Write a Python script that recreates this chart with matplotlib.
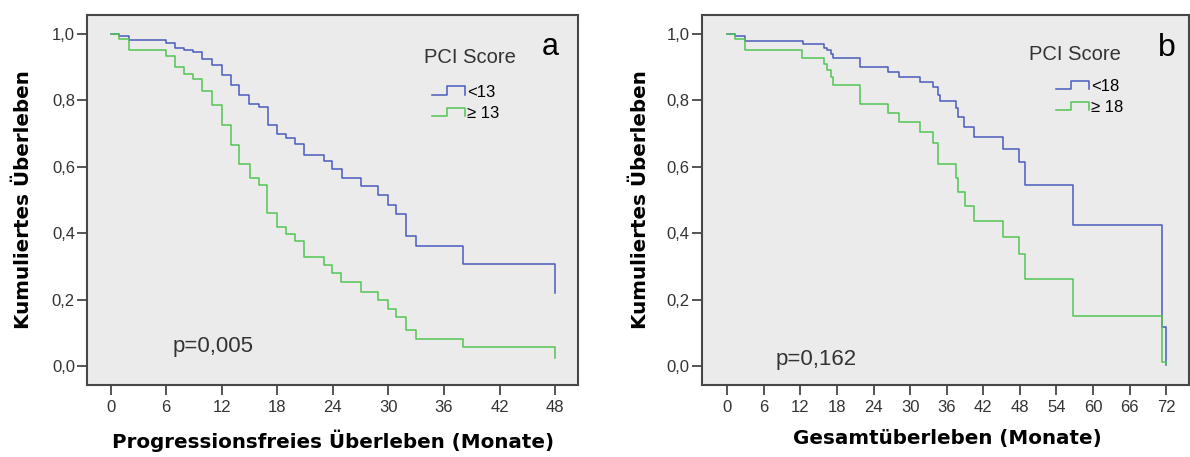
import matplotlib
matplotlib.use("Agg")
import matplotlib.pyplot as plt
from matplotlib.lines import Line2D
from matplotlib.legend_handler import HandlerBase

plt.rcParams["font.family"] = ["Liberation Sans", "DejaVu Sans"]

# ---- data (months, cumulative survival) ----
pfs_low_t = [0, 0.94, 2.0, 6.0, 6.95, 7.9, 8.9, 9.9, 11.0, 12.0, 13.0, 13.9, 14.9, 16.0,
             17.0, 18.0, 18.9, 19.9, 20.9, 23.0, 23.9, 25.0, 27.0, 28.9, 29.9, 30.8,
             31.9, 33.0, 38.0, 48.0]
pfs_low_s = [1.0, 0.993, 0.980, 0.973, 0.958, 0.952, 0.945, 0.925, 0.907, 0.877, 0.847,
             0.817, 0.789, 0.779, 0.726, 0.699, 0.686, 0.669, 0.636, 0.616, 0.594, 0.567,
             0.542, 0.514, 0.486, 0.459, 0.393, 0.363, 0.308, 0.221]
pfs_high_t = [0, 0.94, 2.0, 6.0, 6.95, 7.9, 8.9, 9.9, 11.0, 12.0, 13.0, 13.9, 15.0, 16.0,
              16.9, 18.0, 18.9, 19.9, 20.9, 23.0, 23.9, 24.85, 27.0, 28.9, 29.9, 30.8,
              31.9, 33.0, 38.0, 48.0]
pfs_high_s = [1.0, 0.985, 0.952, 0.933, 0.900, 0.880, 0.865, 0.827, 0.786, 0.726, 0.666,
              0.607, 0.566, 0.544, 0.462, 0.418, 0.398, 0.378, 0.330, 0.306, 0.282, 0.253,
              0.225, 0.198, 0.171, 0.148, 0.108, 0.083, 0.057, 0.024]

os_low_t = [0, 1.28, 2.92, 12.5, 15.8, 16.3, 17.0, 17.4, 21.8, 26.3, 28.2, 31.6, 33.8,
            34.6, 34.9, 37.5, 37.9, 38.9, 40.4, 45.3, 47.9, 48.8, 56.7, 71.3, 72.0]
os_low_s = [1.0, 0.993, 0.978, 0.969, 0.958, 0.950, 0.940, 0.927, 0.900, 0.885, 0.870,
            0.855, 0.840, 0.815, 0.797, 0.775, 0.750, 0.720, 0.690, 0.652, 0.615, 0.545,
            0.425, 0.118, 0.005]
os_high_t = [0, 1.28, 2.92, 12.2, 15.8, 16.3, 17.0, 17.4, 21.7, 26.3, 28.2, 31.6, 33.8,
             34.6, 37.5, 37.9, 39.0, 40.4, 45.3, 47.9, 48.8, 56.7, 71.3, 72.0]
os_high_s = [1.0, 0.983, 0.952, 0.928, 0.910, 0.890, 0.870, 0.847, 0.790, 0.762, 0.733,
             0.703, 0.672, 0.607, 0.565, 0.525, 0.482, 0.438, 0.390, 0.337, 0.262, 0.152,
             0.014, 0.008]

y_ticks = [0.0, 0.2, 0.4, 0.6, 0.8, 1.0]
y_ticklabels = ["0,0", "0,2", "0,4", "0,6", "0,8", "1,0"]
pfs_xticks = list(range(0, 49, 6))
os_xticks = list(range(0, 73, 6))

BLUE = "#4a5bbd"
GREEN = "#52c552"
BG = "#ebebeb"
FRAME = "#474747"


class StepHandler(HandlerBase):
    # little step symbol like the SPSS legend
    def create_artists(self, legend, orig_handle, xdescent, ydescent, width, height,
                       fontsize, trans):
        lo = -ydescent + height * 0.1
        hi = -ydescent + height * 0.9
        x0 = -xdescent
        xs = [x0, x0 + 0.45 * width, x0 + 0.45 * width, x0 + width, x0 + width]
        ys = [lo, lo, hi, hi, lo]
        ln = Line2D(xs, ys, color=orig_handle.get_color(), lw=1.1, transform=trans)
        return [ln]


def style_axes(ax, xticks, xlim):
    ax.set_facecolor(BG)
    ax.set_xlim(*xlim)
    ax.set_ylim(-0.056, 1.056)
    ax.set_xticks(xticks)
    ax.set_yticks(y_ticks)
    ax.set_yticklabels(y_ticklabels)
    for sp in ax.spines.values():
        sp.set_color(FRAME)
        sp.set_linewidth(1.5)
    ax.tick_params(direction="out", length=7, width=1.3, color=FRAME,
                   labelsize=12, labelcolor="#333333")
    ax.tick_params(axis="y", pad=1.5)
    ax.tick_params(axis="x", pad=3.5)
    ax.set_ylabel("Kumuliertes Überleben", family="DejaVu Sans", weight="bold",
                  fontsize=14.3)


def add_legend(ax, labels, anchor, title_xy):
    h1 = Line2D([], [], color=BLUE)
    h2 = Line2D([], [], color=GREEN)
    ax.legend([h1, h2], labels, handler_map={Line2D: StepHandler()},
              loc="upper left", bbox_to_anchor=anchor, frameon=False,
              fontsize=12, handlelength=2.0, handleheight=0.6, handletextpad=0.1,
              labelspacing=0.38, borderpad=0, borderaxespad=0)
    ax.text(title_xy[0], title_xy[1], "PCI Score", transform=ax.transAxes,
            ha="center", va="center", fontsize=14.5, color="#333333")


fig = plt.figure(figsize=(11.9, 4.57), dpi=100)
W, H = 1190.0, 457.0
ax1 = fig.add_axes([86.7 / W, 1 - 385 / H, (578.3 - 86.7) / W, 370 / H])
ax2 = fig.add_axes([701.6 / W, 1 - 385 / H, (1188.8 - 701.6) / W, 370 / H])

# panel a: progression free survival
ax1.step(pfs_low_t, pfs_low_s, where="post", color=BLUE, lw=1.1)
ax1.step(pfs_high_t, pfs_high_s, where="post", color=GREEN, lw=1.1)
style_axes(ax1, pfs_xticks, (-2.58, 50.5))
ax1.set_xlabel("Progressionsfreies Überleben (Monate)", family="DejaVu Sans",
               weight="bold", fontsize=14.3)
ax1.yaxis.set_label_coords(-0.109, 0.5)
ax1.xaxis.set_label_coords(0.501, -0.12)
add_legend(ax1, ["<13", "≥ 13"], (0.702, 0.812), (0.780, 0.885))
ax1.text(0.175, 0.103, "p=0,005", transform=ax1.transAxes, ha="left", va="center",
         fontsize=16, color="#333333")
ax1.text(0.942, 0.914, "a", transform=ax1.transAxes, ha="center", va="center",
         fontsize=22, color="black")

# panel b: overall survival
ax2.step(os_low_t, os_low_s, where="post", color=BLUE, lw=1.1)
ax2.step(os_high_t, os_high_s, where="post", color=GREEN, lw=1.1)
style_axes(ax2, os_xticks, (-4.2, 75.7))
ax2.set_xlabel("Gesamtüberleben (Monate)", family="DejaVu Sans", weight="bold",
               fontsize=14.3)
ax2.yaxis.set_label_coords(-0.106, 0.5)
ax2.xaxis.set_label_coords(0.504, -0.12)
add_legend(ax2, ["<18", "≥ 18"], (0.727, 0.828), (0.766, 0.894))
ax2.text(0.151, 0.068, "p=0,162", transform=ax2.transAxes, ha="left", va="center",
         fontsize=16, color="#333333")
ax2.text(0.955, 0.911, "b", transform=ax2.transAxes, ha="center", va="center",
         fontsize=23, color="black")

fig.savefig("out.png", dpi=100, facecolor="white")
